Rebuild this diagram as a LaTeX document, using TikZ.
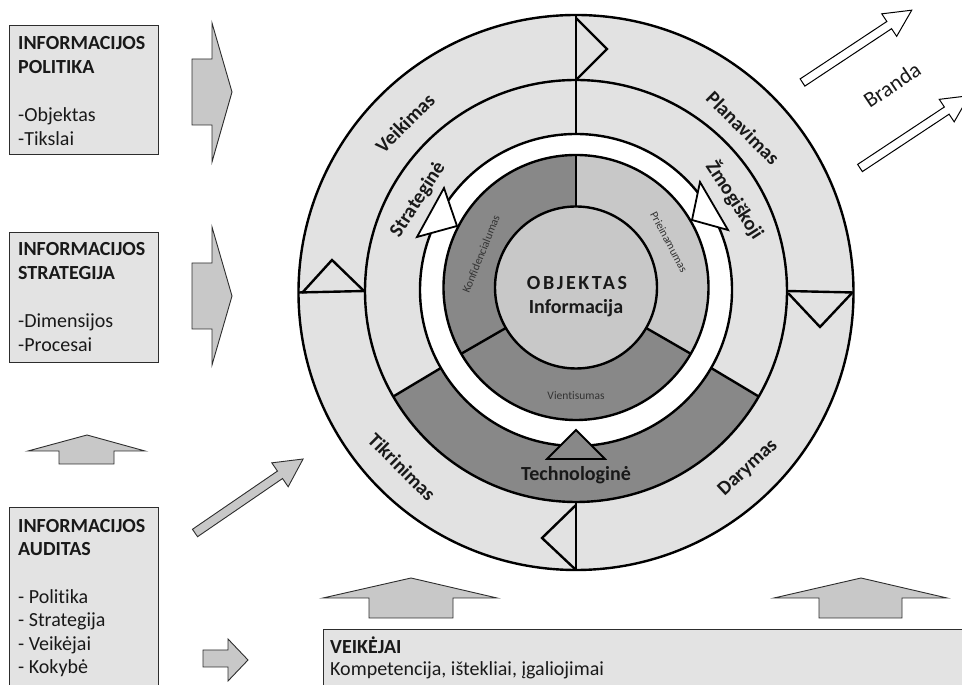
\documentclass[tikz,border=0pt]{standalone}
\usepackage{fontspec}
\setmainfont{Carlito}[Ligatures={NoCommon}]
\newfontfamily\spacedfont[LetterSpace=13,Ligatures={NoCommon}]{Carlito}
\usetikzlibrary{calc}
\definecolor{ringgray}{RGB}{226,226,226}
\definecolor{midgray}{RGB}{200,200,200}
\definecolor{darkfill}{RGB}{136,136,136}
\definecolor{boxgray}{RGB}{227,227,227}
\definecolor{edgegray}{RGB}{45,45,45}
\definecolor{txt}{RGB}{25,25,25}
\begin{document}
\begin{tikzpicture}[x=1pt,y=1pt,
  ringline/.style={line width=2.4pt, draw=black, line join=miter},
  infobox/.style={draw=edgegray, line width=1.3pt, fill=boxgray, inner sep=0pt, anchor=south west},
  blockarrow/.style={draw=edgegray, line width=0.9pt, fill=midgray, line join=miter},
  outlinearrow/.style={draw=black, line width=1pt, fill=white, line join=miter},
  boxtext/.style={anchor=base west, inner sep=0pt, font=\fontsize{20}{24}\selectfont, text=txt},
  ringtext/.style={inner sep=0pt, font=\fontsize{20}{24}\selectfont\bfseries, text=txt},
  smalltext/.style={inner sep=0pt, font=\fontsize{11.5}{14}\selectfont, text=black!80},
  tri/.style={line width=1.8pt, draw=black, line join=miter}
]
\useasboundingbox (0,0) rectangle (962,685);
\clip (0,0) rectangle (962,685);

% centres
\coordinate (c1) at (576,392.5);
\coordinate (c2) at (576,394);
\coordinate (c3) at (576,395);
\coordinate (c4) at (576,397.5);
\coordinate (c5) at (576,397.5);

% fills
\fill[ringgray] (c1) circle[radius=277.5];
\fill[darkfill] ($(c2)+(210:211)$) arc[start angle=210,end angle=330,radius=211]
   -- ($(c3)+(330:156)$) arc[start angle=330,end angle=210,radius=156] -- cycle;
\fill[white] (c3) circle[radius=156];
\fill[darkfill] (c4) circle[radius=132.5];
\fill[midgray] (c4) -- ($(c4)+(-30:132.5)$) arc[start angle=-30,end angle=90,radius=132.5] -- cycle;
\fill[midgray] (c5) circle[radius=81];

% circles
\draw[ringline] (c1) circle[radius=277.5];
\draw[ringline] (c2) circle[radius=211];
\draw[ringline] (c3) circle[radius=156];
\draw[ringline] (c4) circle[radius=132.5];
\draw[ringline] (c5) circle[radius=81];

% radial dividers
\foreach \a in {0,90,180,270} \draw[ringline] ($(c2)+(\a:211)$) -- ($(c1)+(\a:277.5)$);
\foreach \a in {90,210,330} \draw[ringline] ($(c3)+(\a:156)$) -- ($(c2)+(\a:211)$);
\foreach \a in {90,210,330} \draw[ringline] ($(c5)+(\a:81)$) -- ($(c4)+(\a:132.5)$);

% cycle arrow heads on the outer ring
\draw[ringline] (576,667) -- (607,636) -- (576,605);
\draw[ringline] (788,392) -- (820,358) -- (852,392);
\draw[ringline] (576,180) -- (542,147) -- (576,115);
\draw[ringline] (302,392) -- (332,425) -- (365,393);

% arrow heads on the white ring
\draw[tri, fill=white] (444,497) -- (457,459) -- (417,448) -- cycle;
\draw[tri, fill=white] (700,503) -- (728,455) -- (692,465) -- cycle;
\draw[tri, fill=darkfill] (576,255) -- (605,226) -- (547,226) -- cycle;

% ring texts
\node[ringtext, rotate=45] (veik) at (405,562) {Veikimas};
\node[ringtext, rotate=-45] (plan) at (743,557) {Planavimas};
\node[ringtext, rotate=-45] (tikr) at (402,218) {Tikrinimas};
\node[ringtext, rotate=43] (dar) at (748,217) {Darymas};
\node[ringtext, rotate=57] (strat) at (418,485) {Strateginė};
\node[ringtext, rotate=-57] (zmog) at (735,485) {Žmogiškoji};
\node[ringtext] (tech) at (576,210) {Technologinė};
\node[smalltext, rotate=68] (konf) at (481,431) {Konfidencialumas};
\node[smalltext, rotate=-62] (prie) at (669,443) {Prieinamumas};
\node[smalltext] (vien) at (576,289) {Vientisumas};
\node[inner sep=0pt, font=\fontsize{20}{24}\spacedfont\bfseries, text=txt] (obj) at (577,402) {OBJEKTAS};
\node[ringtext] (info) at (576,377) {Informacija};

% left boxes
\node[infobox, minimum width=149, minimum height=129] (pol) at (9,530) {};
\node[boxtext] (pol1) at (18,635.5) {\bfseries INFORMACIJOS};
\node[boxtext] (pol2) at (18,611.5) {\bfseries POLITIKA};
\node[boxtext] (pol3) at (18,563.5) {-Objektas};
\node[boxtext] (pol4) at (18,539.5) {-Tikslai};

\node[infobox, minimum width=149, minimum height=130] (str) at (9,322) {};
\node[boxtext] (str1) at (18,429.5) {\bfseries INFORMACIJOS};
\node[boxtext] (str2) at (18,405.5) {\bfseries STRATEGIJA};
\node[boxtext] (str3) at (18,357.5) {-Dimensijos};
\node[boxtext] (str4) at (18,333.5) {-Procesai};

\node[infobox, minimum width=149, minimum height=182] (aud) at (9,-5) {};
\node[boxtext] (aud1) at (18,152.5) {\bfseries INFORMACIJOS};
\node[boxtext] (aud2) at (18,129) {\bfseries AUDITAS};
\node[boxtext] (aud3) at (18,81.5) {- Politika};
\node[boxtext] (aud4) at (18,58) {- Strategija};
\node[boxtext] (aud5) at (18,34.5) {- Veikėjai};
\node[boxtext] (aud6) at (18,11) {- Kokybė};

\node[infobox, minimum width=644, minimum height=60] (veikej) at (323,-5) {};
\node[boxtext] (vk1) at (330,31.5) {\bfseries VEIKĖJAI};
\node[boxtext] (vk2) at (330,9) {Kompetencija, ištekliai, įgaliojimai};

% block arrows
\draw[blockarrow] (192,626) -- (212,626) -- (212,662) -- (232,593) -- (212,523) -- (212,560) -- (192,560) -- cycle;
\draw[blockarrow] (192,422) -- (212,422) -- (212,458) -- (232,389) -- (212,320) -- (212,356) -- (192,356) -- cycle;
\draw[blockarrow] (59,221) -- (59,234) -- (28,234) -- (87,250) -- (145,234) -- (114,234) -- (114,221) -- cycle;
\draw[blockarrow] (203,35) -- (228,35) -- (228,46) -- (248,25) -- (228,4) -- (228,18) -- (203,18) -- cycle;
\draw[blockarrow] (369,67) -- (369,87) -- (323,87) -- (411,107) -- (497,87) -- (453,87) -- (453,67) -- cycle;
\draw[blockarrow] (819,67) -- (819,87) -- (774,87) -- (861,107) -- (947,87) -- (902,87) -- (902,67) -- cycle;
\begin{scope}[shift={(195,152)},rotate=34.4]
  \draw[blockarrow] (0,-4.5) -- (103,-4.5) -- (103,-14.5) -- (131,0) -- (103,14.5) -- (103,4.5) -- (0,4.5) -- cycle;
\end{scope}

% Branda
\begin{scope}[shift={(802.5,602.5)},rotate=33.5]
  \draw[outlinearrow] (0,-4.3) -- (104,-4.3) -- (104,-13.5) -- (131,0) -- (104,13.5) -- (104,4.3) -- (0,4.3) -- cycle;
\end{scope}
\begin{scope}[shift={(860,517)},rotate=33.5]
  \draw[outlinearrow] (0,-4.3) -- (104,-4.3) -- (104,-13.5) -- (131,0) -- (104,13.5) -- (104,4.3) -- (0,4.3) -- cycle;
\end{scope}
\node[inner sep=0pt, rotate=34, font=\fontsize{22}{26}\selectfont, text=txt] (branda) at (892,600) {Branda};
\end{tikzpicture}
\end{document}
